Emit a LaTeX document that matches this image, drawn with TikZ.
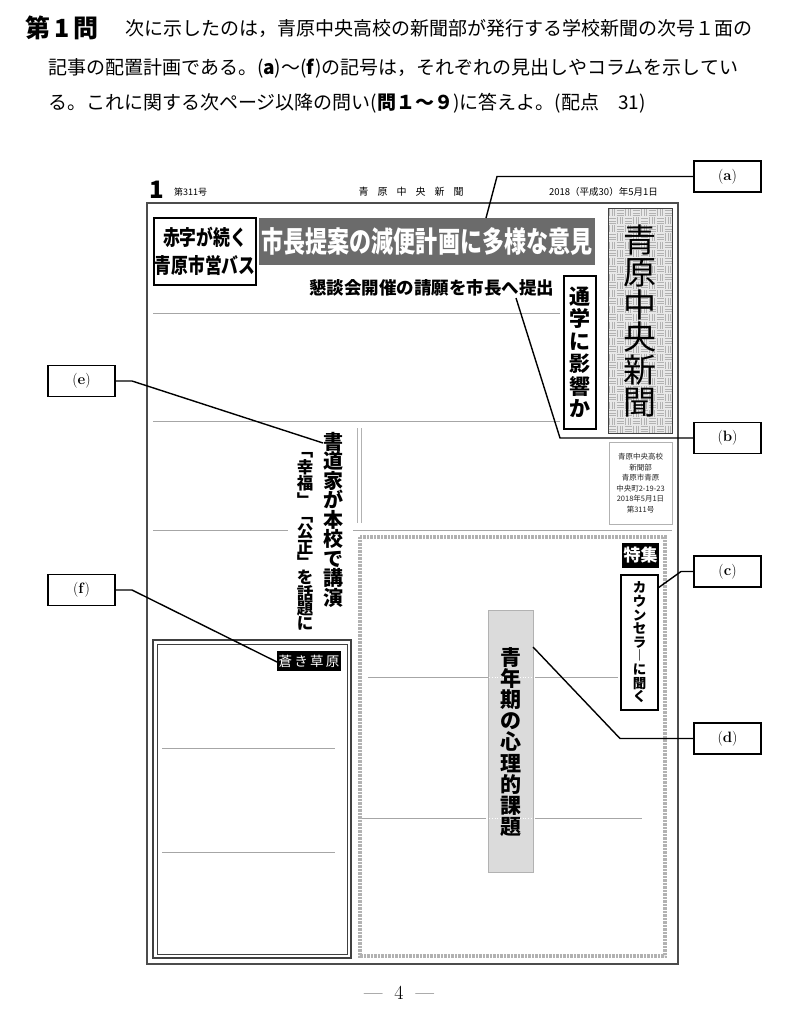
\documentclass[tikz,border=0pt]{standalone}
\usepackage{fontspec}
\newfontfamily\jp{Noto Sans CJK JP}
\begin{document}
\begin{tikzpicture}[x=1pt,y=-1pt,
  lbl/.style={draw=black,line width=1.6pt,minimum width=67pt,minimum height=31pt,inner sep=0pt,font=\fontsize{15}{15}\selectfont},
  lead/.style={line width=1.4pt,black},
  rule/.style={gray!70,line width=0.8pt},
  txt/.style={inner sep=0pt},
  vt/.style={inner sep=0pt,align=center},
]
\useasboundingbox[fill=white] (0,0) rectangle (791,1024);

% ---------- question text ----------
\node[txt,anchor=west,font=\jp\bfseries\fontsize{25}{25}\selectfont] (q) at (25,28) {第\,1\,問};
\node[txt,anchor=west,font=\jp\fontsize{19}{19}\selectfont] (l1) at (125,28) {次に示したのは，青原中央高校の新聞部が発行する学校新聞の次号１面の};
\node[txt,anchor=west,font=\jp\fontsize{19}{19}\selectfont] (l2) at (48,68) {記事の配置計画である。(\textbf{a})〜(\textbf{f})の記号は，それぞれの見出しやコラムを示してい};
\node[txt,anchor=west,font=\jp\fontsize{19}{19}\selectfont] (l3) at (48,103) {る。これに関する次ページ以降の問い(\textbf{問１〜９})に答えよ。(配点　31)};

% ---------- newspaper header ----------
\node[txt,font=\jp\bfseries\fontsize{24}{24}\selectfont] (pg) at (157,190) {1};
\node[txt,anchor=west,font=\jp\fontsize{9}{9}\selectfont] (no) at (174,192) {第311号};
\node[txt,font=\jp\fontsize{10}{10}\selectfont] (nm) at (411,192) {青\hspace{9pt}原\hspace{9pt}中\hspace{9pt}央\hspace{9pt}新\hspace{9pt}聞};
\node[txt,anchor=east,font=\jp\fontsize{9.5}{9.5}\selectfont] (dt) at (658,192) {2018（平成30）年5月1日};

% frame
\draw[gray!60!black,line width=1.2pt] (147,203) rectangle (678,964);

% ---------- top headlines ----------
\node[draw,line width=2pt,minimum width=102pt,minimum height=66pt,inner sep=0pt,align=center,
  font=\jp\bfseries\fontsize{21}{28}\selectfont] (bus) at (205,251.5)
  {\scalebox{0.8}[1]{赤字が続く}\\\scalebox{0.8}[1]{青原市営バス}};
\node[fill=black!58,minimum width=336pt,minimum height=47pt,inner sep=0pt,text=white,
  font=\jp\bfseries\fontsize{29}{29}\selectfont] (head) at (427,241.5)
  {\scalebox{0.76}[1]{市長提案の減便計画に多様な意見}};
\node[txt,font=\jp\bfseries\fontsize{17.5}{17.5}\selectfont] (sub) at (431.5,288) {懇談会開催の請願を市長へ提出};
\node[draw,line width=1.6pt,minimum width=32pt,minimum height=153pt,inner sep=0pt,align=center,
  font=\jp\bfseries\fontsize{21}{22.5}\selectfont] (tsu) at (580,352.5) {通\\学\\に\\影\\響\\か};

% masthead
\fill[gray!18] (608,209) rectangle (672,433);
\foreach \i in {0,...,7}{
  \foreach \j in {0,...,27}{
    \pgfmathtruncatemacro\pp{\i+\j}
    \ifodd\pp
      \draw[gray!60,line width=0.6pt] (608+8*\i+0.5,209+8*\j+1.5) -- ++(7,0)
        (608+8*\i+0.5,209+8*\j+4) -- ++(7,0)
        (608+8*\i+0.5,209+8*\j+6.5) -- ++(7,0);
    \else
      \draw[gray!60,line width=0.6pt] (608+8*\i+1.5,209+8*\j+0.5) -- ++(0,7)
        (608+8*\i+4,209+8*\j+0.5) -- ++(0,7)
        (608+8*\i+6.5,209+8*\j+0.5) -- ++(0,7);
    \fi
  }
}
\draw[gray!50!black,line width=1pt] (608,209) rectangle (672,433);
\node[vt,font=\jp\fontsize{33}{32.5}\selectfont] (mast) at (640,321) {青\\原\\中\\央\\新\\聞};

% info box
\node[draw=gray!60,line width=0.8pt,minimum width=63pt,minimum height=82pt,inner sep=0pt,align=center,
  text=gray!30!black,font=\jp\fontsize{7.5}{10.5}\selectfont] (info) at (640.5,483)
  {青原中央高校\\新聞部\\青原市青原\\中央町2-19-23\\2018年5月1日\\第311号};

% rules
\draw[rule] (153,313) -- (560,313);
\draw[rule] (153,421) -- (560,421);
\draw[rule] (153,530) -- (288,530);
\draw[rule] (353,530) -- (672,530);
\draw[gray!60,line width=1pt] (357.5,428) -- (357.5,523) (361,428) -- (361,523);

% (e) article
\node[vt,font=\jp\bfseries\fontsize{20}{19.5}\selectfont] (e1) at (333,519.5) {書\\道\\家\\が\\本\\校\\で\\講\\演};
\node[vt,font=\jp\bfseries\fontsize{16.5}{15.3}\selectfont] (e2) at (305,541.5) {﹁\\幸\\福\\﹂\\﹁\\公\\正\\﹂\\を\\話\\題\\に};

% (f) column box
\draw[gray!50!black,line width=1.2pt] (153,640) rectangle (351,958);
\draw[gray!50!black,line width=0.8pt] (157,644) rectangle (347,954);
\draw[rule] (162,748) -- (335,748);
\draw[rule] (162,852) -- (335,852);
\node[fill=black,text=white,minimum width=64pt,minimum height=20pt,inner sep=0pt,
  font=\jp\fontsize{13.5}{13.5}\selectfont] (col) at (309,661) {蒼\,き\,草\,原};

% feature box
\draw[gray!60,line width=3.5pt,dash pattern=on 0.7pt off 0.7pt] (360,537) rectangle (665,956);
\node[fill=black,text=white,minimum width=37pt,minimum height=25pt,inner sep=0pt,
  font=\jp\bfseries\fontsize{17}{17}\selectfont] (toku) at (640.5,555.5) {特集};
\node[draw,line width=1.4pt,minimum width=37pt,minimum height=135pt,inner sep=0pt,align=center,
  font=\jp\bfseries\fontsize{13.5}{13.6}\selectfont] (cou) at (639.5,642.5) {カ\\ウ\\ン\\セ\\ラ\\︱\\に\\聞\\く};
\draw[rule] (368,677) -- (488,677) (535,677) -- (618,677);
\draw[rule] (362,818) -- (486,818) (535,818) -- (642,818);
\node[fill=gray!28,draw=gray!60,line width=0.8pt,minimum width=45pt,minimum height=262pt,inner sep=0pt] (ybox) at (511,741) {};
\draw[white,dotted,line width=0.8pt] (489,677) -- (533,677) (489,818) -- (533,818);
\node[vt,font=\jp\bfseries\fontsize{21}{21.2}\selectfont] (ytxt) at (511,742) {青\\年\\期\\の\\心\\理\\的\\課\\題};

% page number
\node[txt,font=\fontsize{20}{20}\selectfont] (pno) at (399,993) {---\hspace{12pt}4\hspace{12pt}---};

% ---------- labels ----------
\node[lbl] (la) at (727.5,176.5) {(\textbf{a})};
\node[lbl] (lb) at (727.5,438) {(\textbf{b})};
\node[lbl] (lc) at (727.5,571.5) {(\textbf{c})};
\node[lbl] (ld) at (727.5,738.5) {(\textbf{d})};
\node[lbl] (le) at (81.5,381) {(\textbf{e})};
\node[lbl] (lf) at (81.5,590) {(\textbf{f})};

\coordinate (ka) at (497,176.5);  \coordinate (ta) at (486,218);
\coordinate (kb) at (560,438);    \coordinate (tb) at (516,298);
\coordinate (kc) at (681,571.5);  \coordinate (tc) at (658,588);
\coordinate (kd) at (620,738.5);  \coordinate (td) at (533,647);
\coordinate (ke) at (132,381);    \coordinate (te) at (323,443);
\coordinate (kf) at (132,590);    \coordinate (tf) at (277,662);

\draw[lead] (la.west) -- (ka) -- (ta);
\draw[lead] (lb.west) -- (kb) -- (tb);
\draw[lead] (lc.west) -- (kc) -- (tc);
\draw[lead] (ld.west) -- (kd) -- (td);
\draw[lead] (le.east) -- (ke) -- (te);
\draw[lead] (lf.east) -- (kf) -- (tf);
\end{tikzpicture}
\end{document}
